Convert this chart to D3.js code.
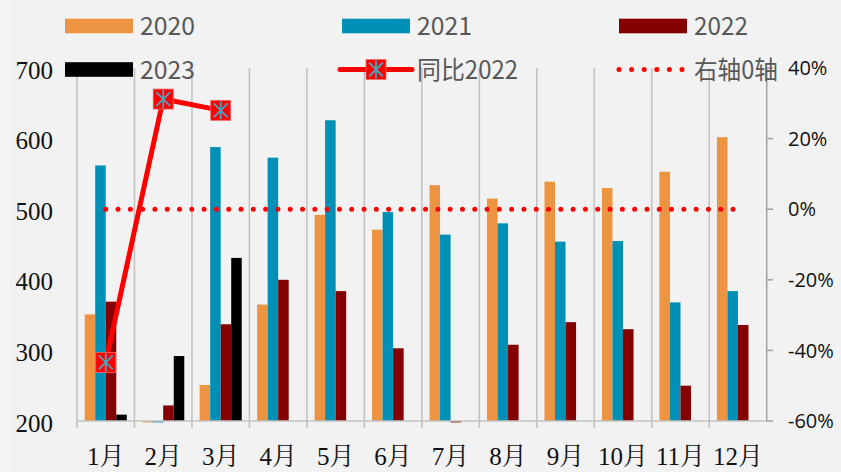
<!DOCTYPE html>
<html>
<head>
<meta charset="utf-8">
<script src="https://cdn.jsdelivr.net/npm/d3@7"></script>
<style>
  html, body { margin: 0; padding: 0; background: #f2f2f2; }
  svg { display: block; }
</style>
</head>
<body>
<div id="chart"></div>
<script>
const months = ['1月', '2月', '3月', '4月', '5月', '6月', '7月', '8月', '9月', '10月', '11月', '12月']
const seriesNames = ['2020', '2021', '2022', '2023']
const v2020 = [351, 198, 251, 365, 492, 471, 534, 515, 539, 530, 553, 602]
const v2021 = [562, 198, 588, 573, 626, 496, 464, 480, 454, 455, 368, 384]
const v2022 = [369, 222, 337, 400, 384, 303, 198, 308, 340, 330, 250, 336]
const v2023 = [209, 292, 431, null, null, null, null, null, null, null, null, null]
const yoy2022 = [-0.434, 0.312, 0.28]
const leftTicks = [200, 300, 400, 500, 600, 700]
const rightTicks = [-0.6, -0.4, -0.2, 0, 0.2, 0.4]
const colors = ['#ec9441', '#0090b5', '#850000', '#000000']

const width = 841
const height = 472

const svg = d3.select('#chart').append('svg')
  .attr('width', width)
  .attr('height', height)

svg.append('rect').attr('width', width).attr('height', height).attr('fill', '#f2f2f2')
svg.append('rect').attr('width', 10).attr('height', height).attr('fill', '#f5f5f5')

const x = d3.scaleBand().domain(months).range([77, 766.7])
const xs = d3.scaleBand().domain(seriesNames).range([0, x.bandwidth()]).paddingOuter(0.73)
const yL = d3.scaleLinear().domain([200, 700]).range([421, 68])
const yR = d3.scaleLinear().domain([-0.6, 0.4]).range([421, 68])

// vertical gridlines at category boundaries
const bounds = months.map(m => x(m))
svg.append('g').selectAll('line')
  .data(bounds)
  .enter().append('line')
  .attr('x1', d => d).attr('x2', d => d)
  .attr('y1', yL(700)).attr('y2', 428)
  .attr('stroke', '#c3c3c3')
  .attr('stroke-width', 1.6)

// bars
const table = months.map((m, i) => ({month: m, vals: [v2020[i], v2021[i], v2022[i], v2023[i]]}))
const groups = svg.append('g').selectAll('g')
  .data(table)
  .enter().append('g')
  .attr('transform', d => `translate(${x(d.month)},0)`)

groups.selectAll('rect')
  .data(d => d.vals.map((v, j) => ({name: seriesNames[j], v, j})).filter(e => e.v != null))
  .enter().append('rect')
  .attr('x', d => xs(d.name))
  .attr('width', xs.bandwidth())
  .attr('y', d => Math.min(yL(d.v), yL(200)))
  .attr('height', d => Math.abs(yL(d.v) - yL(200)))
  .attr('fill', d => colors[d.j])

// bottom axis line
svg.append('line')
  .attr('x1', 77).attr('x2', 766.7)
  .attr('y1', yL(200)).attr('y2', yL(200))
  .attr('stroke', '#c3c3c3').attr('stroke-width', 1.6)

// right axis
svg.append('line')
  .attr('x1', 766.7).attr('x2', 766.7)
  .attr('y1', yR(0.4)).attr('y2', yR(-0.6))
  .attr('stroke', '#a6a6a6').attr('stroke-width', 1.6)
svg.append('g').selectAll('line')
  .data(rightTicks)
  .enter().append('line')
  .attr('x1', 766.7).attr('x2', 773)
  .attr('y1', d => yR(d)).attr('y2', d => yR(d))
  .attr('stroke', '#a6a6a6').attr('stroke-width', 1.6)

svg.append('g').selectAll('text')
  .data(rightTicks)
  .enter().append('text')
  .attr('x', 788)
  .attr('y', d => yR(d))
  .attr('dy', '0.36em')
  .attr('font-family', '"Open Sans", "Noto Sans", sans-serif')
  .attr('font-size', 20)
  .attr('fill', '#111')
  .text(d => d3.format('.0%')(d).replace('−', '-'))

// left axis labels
svg.append('g').selectAll('text')
  .data(leftTicks)
  .enter().append('text')
  .attr('x', 53)
  .attr('y', d => yL(d) + 2)
  .attr('dy', '0.34em')
  .attr('text-anchor', 'end')
  .attr('font-family', '"Liberation Serif", "Times New Roman", serif')
  .attr('font-size', 25)
  .attr('fill', '#111')
  .text(d => d)

// month labels
svg.append('g').selectAll('text')
  .data(months)
  .enter().append('text')
  .attr('x', d => x(d) + x.bandwidth() / 2)
  .attr('y', 465)
  .attr('text-anchor', 'middle')
  .attr('font-family', '"Liberation Serif", "Noto Serif CJK SC", "Noto Sans CJK SC", serif')
  .attr('font-size', 25)
  .attr('fill', '#111')
  .text(d => d)

// zero line for right axis
const cx = m => x(m) + x.bandwidth() / 2
svg.append('line')
  .attr('x1', cx(months[0])).attr('x2', cx(months[11]))
  .attr('y1', yR(0)).attr('y2', yR(0))
  .attr('stroke', '#ff0000')
  .attr('stroke-width', 5)
  .attr('stroke-linecap', 'round')
  .attr('stroke-dasharray', '0 12.3')

// yoy line
const line = d3.line()
  .x((d, i) => cx(months[i]))
  .y(d => yR(d))
svg.append('path')
  .datum(yoy2022)
  .attr('d', line)
  .attr('fill', 'none')
  .attr('stroke', '#ff0000')
  .attr('stroke-width', 5)
  .attr('stroke-linejoin', 'round')

const marker = (g, mx, my) => {
  g.append('rect')
    .attr('x', mx - 10).attr('y', my - 10)
    .attr('width', 20).attr('height', 20)
    .attr('fill', '#ff0000')
    .attr('stroke', '#f06a6a').attr('stroke-width', 0.8)
  const s = 7
  g.append('path')
    .attr('d', `M${mx - s},${my - s}L${mx + s},${my + s}M${mx + s},${my - s}L${mx - s},${my + s}M${mx},${my - 9}L${mx},${my + 9}`)
    .attr('stroke', '#4aa3bd').attr('stroke-width', 1.8).attr('fill', 'none')
}
const mg = svg.append('g')
yoy2022.forEach((d, i) => marker(mg, cx(months[i]), yR(d)))

// legend
const legFont = '"Noto Sans CJK SC", "Noto Sans", sans-serif'
const leg = svg.append('g')
const legItems = [
  {label: '2020', type: 'bar', color: colors[0], x: 65, y: 26, tl: 55},
  {label: '2021', type: 'bar', color: colors[1], x: 342, y: 26, tl: 55},
  {label: '2022', type: 'bar', color: colors[2], x: 619, y: 26, tl: 54},
  {label: '2023', type: 'bar', color: colors[3], x: 65, y: 69.5, tl: 55},
  {label: '同比2022', type: 'line', color: '#ff0000', x: 342, y: 69.5, tl: 101},
  {label: '右轴0轴', type: 'dot', color: '#ff0000', x: 619, y: 69.5, tl: 84}
]
legItems.forEach(it => {
  if (it.type === 'bar') {
    leg.append('rect')
      .attr('x', it.x).attr('y', it.y - 7.3)
      .attr('width', 68).attr('height', 14.6)
      .attr('fill', it.color)
  } else if (it.type === 'line') {
    leg.append('line')
      .attr('x1', it.x - 2).attr('x2', it.x + 70)
      .attr('y1', it.y).attr('y2', it.y)
      .attr('stroke', it.color).attr('stroke-width', 5)
      .attr('stroke-linecap', 'round')
    marker(leg, it.x + 34, it.y)
  } else {
    leg.append('line')
      .attr('x1', it.x).attr('x2', it.x + 64)
      .attr('y1', it.y).attr('y2', it.y)
      .attr('stroke', it.color).attr('stroke-width', 5)
      .attr('stroke-linecap', 'round')
      .attr('stroke-dasharray', '0 12.6')
  }
  leg.append('text')
    .attr('x', it.x + 75)
    .attr('y', it.y)
    .attr('dy', '0.36em')
    .attr('font-family', legFont)
    .attr('font-size', 25)
    .attr('fill', '#595959')
    .attr('textLength', it.tl)
    .attr('lengthAdjust', 'spacingAndGlyphs')
    .text(it.label)
})
</script>
</body>
</html>
